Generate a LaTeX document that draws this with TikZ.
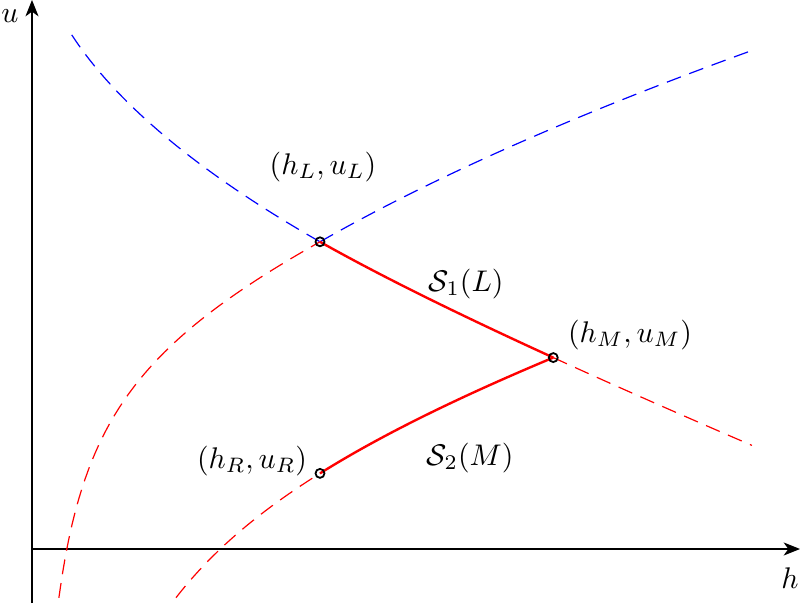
\documentclass[tikz,border=0pt]{standalone}
\usetikzlibrary{calc}
\usetikzlibrary{arrows.meta}

\tikzset{
  dashline/.style={dash pattern=on 5pt off 3pt},
  wavecurve/.style={red, thick},
  axistip/.style={-{Stealth[length=5.5pt,width=4.4pt,inset=1.6pt]}}
}

\begin{document}
\begin{tikzpicture}[x=1.13cm, y=1.13cm,
  declare function={
    shk(\h,\hz,\uz,\s)=\uz+\s*0.69*(\h-\hz)*sqrt(1/\h+1/\hz);
    rar(\h,\hz,\uz,\s)=\uz+\s*1.98*(sqrt(\h)-sqrt(\hz));
  }]
\useasboundingbox (-0.3333,-0.5625) rectangle (8.0,5.7188);
\pgfmathsetmacro{\uM}{3.2-0.69*(5.43-3)*sqrt(1/5.43+1/3)}
\pgfmathsetmacro{\uR}{\uM-0.69*(5.43-3)*sqrt(1/5.43+1/3)}
\coordinate (O) at (0,0);
\coordinate (hend) at (8.0,0);
\coordinate (ubot) at (0,-0.5625);
\coordinate (uend) at (0,5.7188);
\coordinate (L) at (3,3.2);
\coordinate (M) at (5.43,\uM);
\coordinate (R) at (3,\uR);
% axes
\draw[black,axistip] (O) -- (hend);
\draw[black,axistip] (ubot) -- (uend);
\node (hlab) at (7.896,-0.302) {$h$};
\node (ulab) at (-0.229,5.552) {$u$};
% curves through L
\draw[blue, dashline] plot[domain=0.414:3, samples=60] (\x,{rar(\x,3,3.2,-1)});
\draw[blue, dashline] plot[domain=3:7.46, samples=60] (\x,{rar(\x,3,3.2,1)});
\draw[red, dashline] plot[domain=0.28:3, samples=80] (\x,{shk(\x,3,3.2,1)});
\draw[red, dashline] plot[domain=5.43:7.5, samples=40] (\x,{shk(\x,3,3.2,-1)});
\draw[wavecurve] plot[domain=3:5.43, samples=40] (\x,{shk(\x,3,3.2,-1)});
% curve through M
\draw[red, dashline] plot[domain=1.5:3, samples=50] (\x,{shk(\x,5.43,\uM,1)});
\draw[wavecurve] plot[domain=3:5.43, samples=40] (\x,{shk(\x,5.43,\uM,1)});
\foreach \p in {L,M,R} {
 \draw[black, semithick] (\p) circle (1.5pt);
}
\node (labL) at (3.031,3.979) {$(h_L,u_L)$};
\node (labM) at (6.229,2.229) {$(h_M,u_M)$};
\node (labR) at (2.292,0.917) {$(h_R,u_R)$};
\node (labS1) at (4.521,2.760) {$\mathcal{S}_1(L)$};
\node (labS2) at (4.5625,0.948) {$\mathcal{S}_2(M)$};
\end{tikzpicture}
\end{document}
